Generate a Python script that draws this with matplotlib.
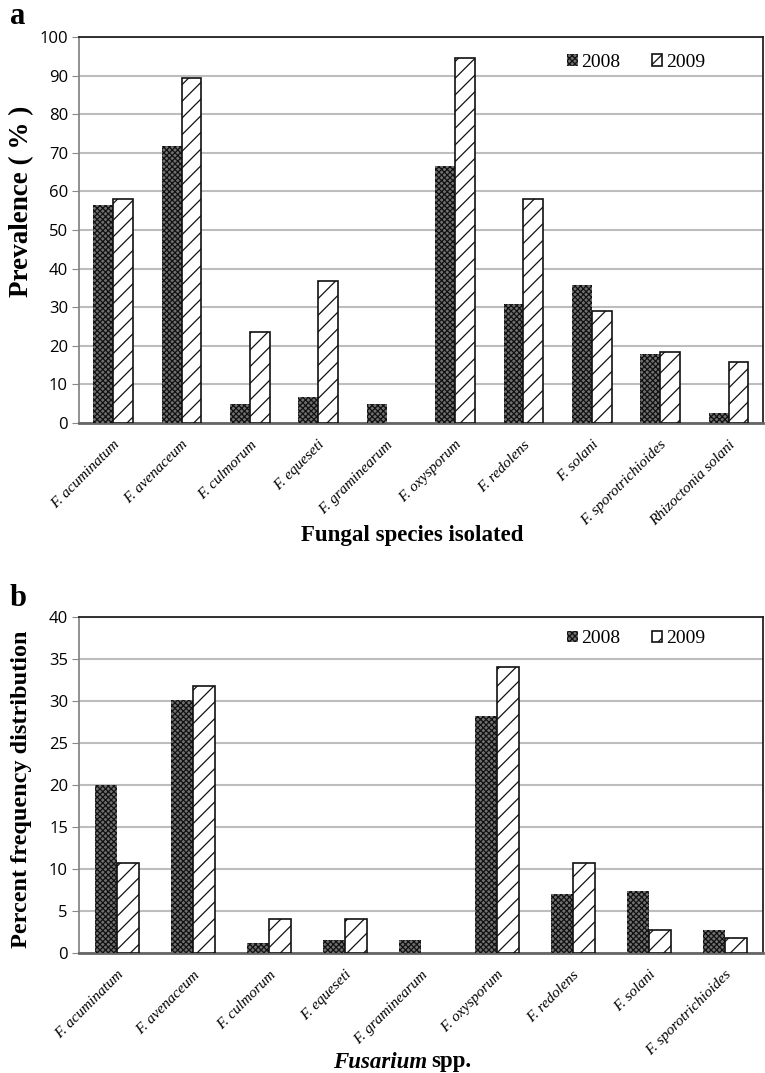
import matplotlib
matplotlib.use("Agg")
import matplotlib.pyplot as plt
import numpy as np

species_a = ["F. acuminatum", "F. avenaceum", "F. culmorum", "F. equeseti",
             "F. graminearum", "F. oxysporum", "F. redolens", "F. solani",
             "F. sporotrichioides", "Rhizoctonia solani"]
prev_2008 = [56.4, 71.8, 4.9, 6.8, 5.0, 66.7, 30.7, 35.8, 17.8, 2.5]
prev_2009 = [58.0, 89.5, 23.7, 36.8, 0.0, 94.6, 58.0, 28.9, 18.5, 15.9]

species_b = species_a[:9]
freq_2008 = [20.0, 30.1, 1.15, 1.55, 1.5, 28.2, 7.0, 7.4, 2.7]
freq_2009 = [10.7, 31.8, 4.1, 4.1, 0.0, 34.1, 10.7, 2.8, 1.8]

serif = "Liberation Serif"
sans = "Open Sans"
plt.rcParams["hatch.linewidth"] = 0.9


def draw_panel(ax, names, v08, v09, ymax, ystep):
	x = np.arange(len(names))
	w = 0.29
	ax.bar(x - w/2, v08, w, color="#707070", edgecolor="#111111", hatch="xxxxxx",
		linewidth=0, label="2008", zorder=3)
	# no outline on empty bars
	lw09 = [1.2 if v > 0 else 0 for v in v09]
	ax.bar(x + w/2, v09, w, color="white", edgecolor="#111111", hatch="//",
		linewidth=lw09, label="2009", zorder=3)
	ax.set_xlim(-0.5, len(names) - 0.5)
	ax.set_ylim(0, ymax)
	ax.set_yticks(np.arange(0, ymax + 1, ystep))
	ax.yaxis.grid(True, color="#bdbdbd", linewidth=1.5, zorder=0)
	ax.set_axisbelow(True)
	for s in ["top", "right"]:
		ax.spines[s].set_color("#222222")
		ax.spines[s].set_linewidth(1.3)
	ax.spines["left"].set_color("#888888")
	ax.spines["left"].set_linewidth(1.3)
	ax.spines["bottom"].set_color("#666666")
	ax.spines["bottom"].set_linewidth(2)
	ax.set_xticks(x)
	ax.set_xticklabels(names, rotation=45, ha="right", rotation_mode="anchor",
		family=serif, style="italic", fontsize=11)
	ax.tick_params(axis="x", length=0, pad=11)
	ax.tick_params(axis="y", length=5, color="#888888", labelsize=12, pad=3)
	for t in ax.get_yticklabels():
		t.set_family(sans)
	leg = ax.legend(loc="center", bbox_to_anchor=(0.815, 0.935), ncol=2, frameon=False,
		prop={"family": serif, "size": 14}, handlelength=0.55, handleheight=0.55,
		handletextpad=0.2, columnspacing=1.6)
	leg.legend_handles[1].set_linewidth(1.2)


fig = plt.figure(figsize=(7.65, 10.73), dpi=100)
ax1 = fig.add_axes([0.1033, 0.6058, 0.8937, 0.3597])
draw_panel(ax1, species_a, prev_2008, prev_2009, 100, 10)

ax2 = fig.add_axes([0.1033, 0.1118, 0.8937, 0.3132])
draw_panel(ax2, species_b, freq_2008, freq_2009, 40, 5)

fig.text(22/765, 1 - 201/1073, "Prevalence ( % )", family=serif, weight="bold",
	fontsize=19.5, rotation=90, ha="center", va="center")
fig.text(22/765, 1 - 789/1073, "Percent frequency distribution", family=serif, weight="bold",
	fontsize=17.5, rotation=90, ha="center", va="center")

fig.text(412/765, 1 - 535/1073, "Fungal species isolated", family=serif, weight="bold",
	fontsize=16.5, ha="center", va="center")
fig.text(427/765, 1 - 1062/1073, "Fusarium", family=serif, weight="bold", style="italic",
	fontsize=16.5, ha="right", va="center")
fig.text(431/765, 1 - 1062/1073, "spp.", family=serif, weight="bold",
	fontsize=16.5, ha="left", va="center")
fig.text(0.013, 1 - 16/1073, "a", family=serif, weight="bold", fontsize=22, va="center")
fig.text(0.013, 1 - 598/1073, "b", family=serif, weight="bold", fontsize=22, va="center")

fig.savefig("out.png", dpi=100)
